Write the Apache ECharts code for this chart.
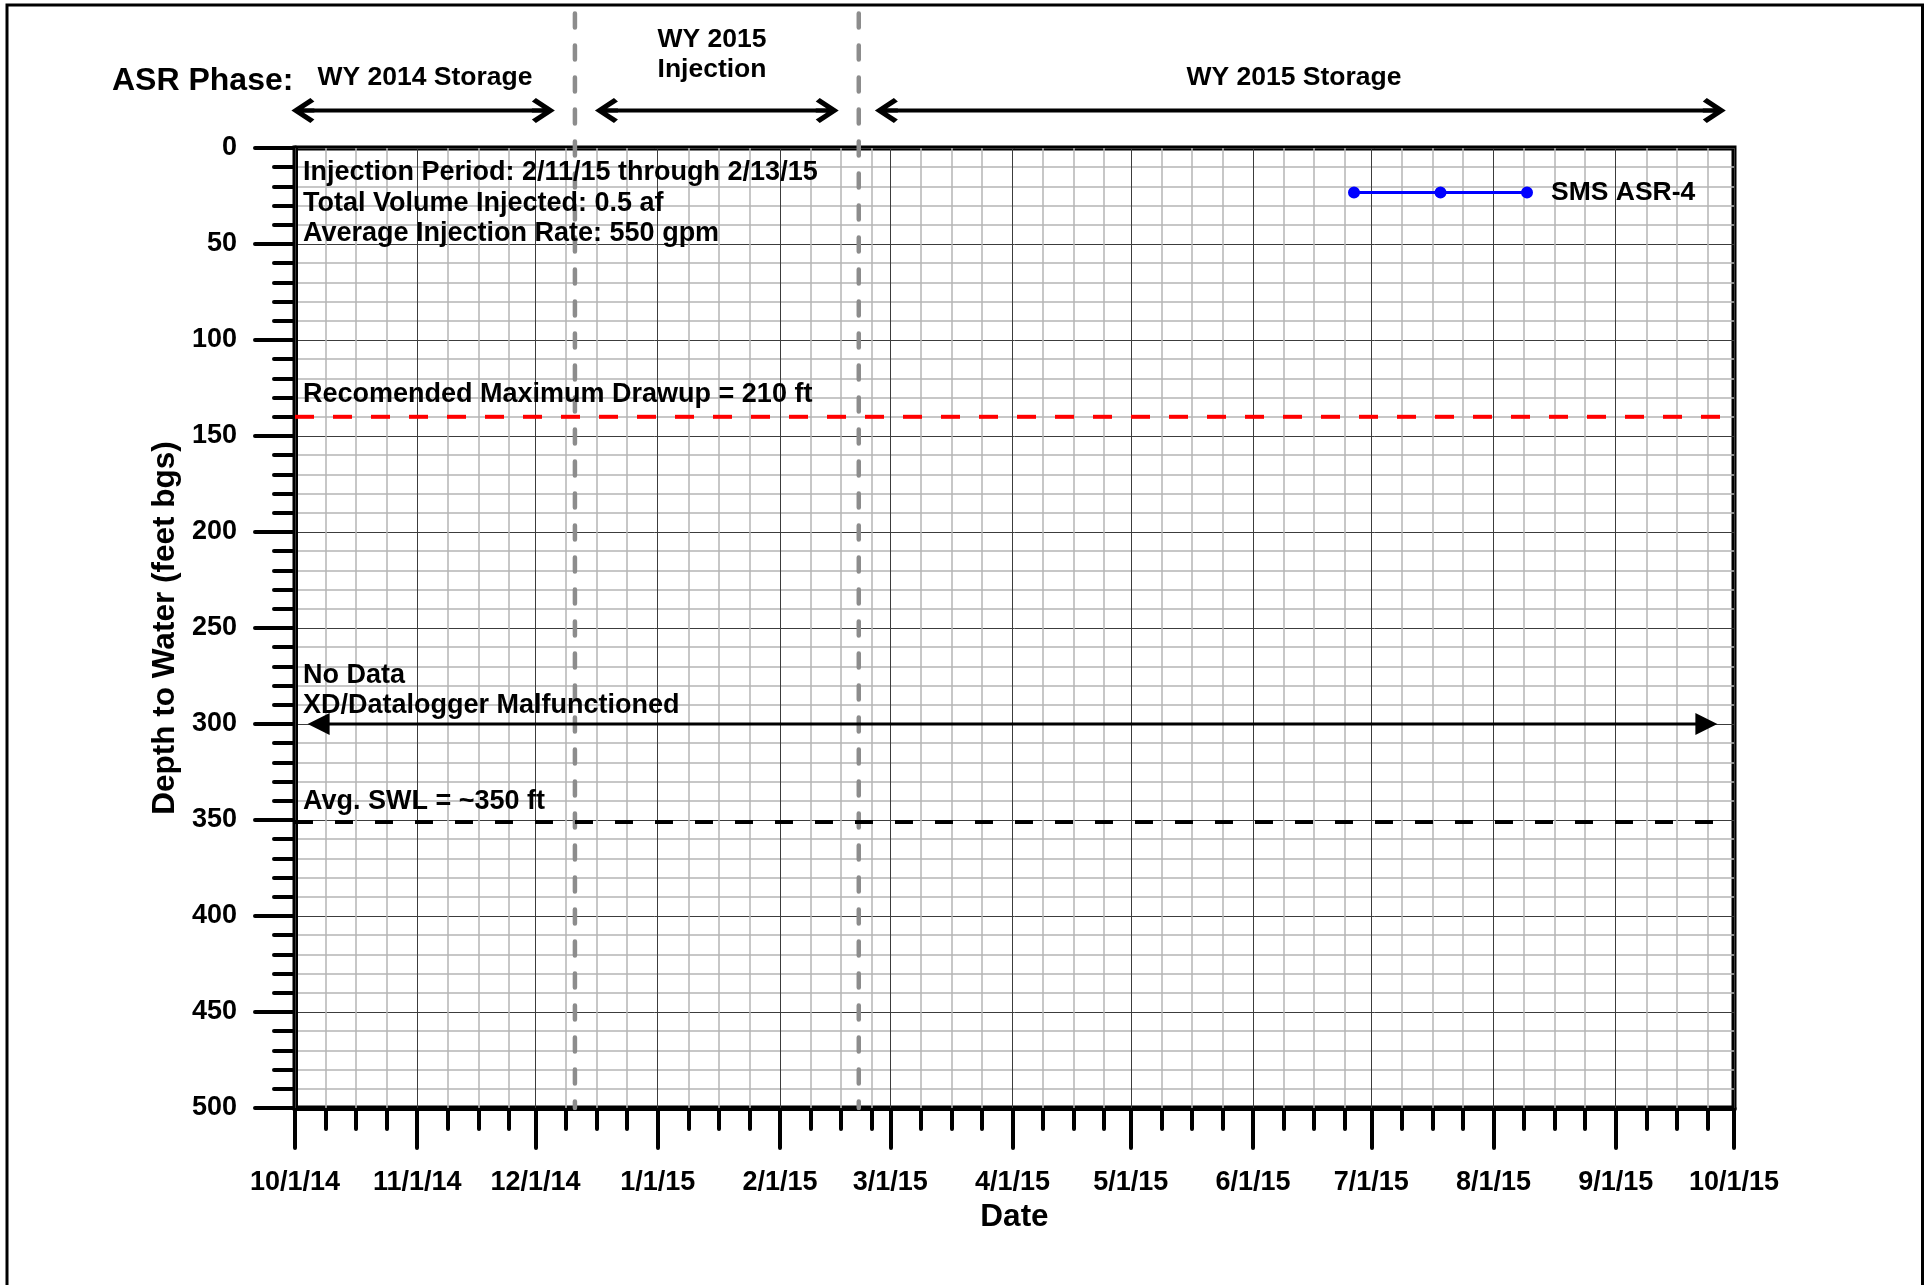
<!DOCTYPE html>
<html><head><meta charset="utf-8">
<script src="https://cdn.jsdelivr.net/npm/echarts@6/dist/echarts.min.js"></script>
<style>html,body{margin:0;padding:0;background:#fff}#chart{width:1932px;height:1285px}</style>
</head><body><div id="chart"></div>
<script>
// ---------- data ----------
const dateRange = ['2014-10-01', '2015-10-01'];
const monthTicks = ['2014-10-01','2014-11-01','2014-12-01','2015-01-01','2015-02-01','2015-03-01',
  '2015-04-01','2015-05-01','2015-06-01','2015-07-01','2015-08-01','2015-09-01','2015-10-01'];
const minorTickFractions = [0.25, 0.5, 0.75];        // of a 31-day month
const depthRange = [0, 500];
const depthTickStep = 50;
const seriesName = 'SMS ASR-4';
const asr4Dates = [];     // no data: XD/Datalogger malfunctioned
const asr4Depths = [];
const maxDrawupDepth = 140;
const avgSwlDepth = 351;
const noDataDepth = 300;
const noDataArrow = ['2014-10-07', '2015-09-24'];
const phaseBoundaryDates = ['2014-12-11', '2015-02-21'];
const phaseNames = ['WY 2014 Storage', 'WY 2015\nInjection', 'WY 2015 Storage'];
const phaseArrowStarts = ['2014-10-03', '2014-12-19', '2015-02-28'];
const phaseArrowEnds = ['2014-12-03', '2015-02-13', '2015-09-26'];
const phaseArrowDepth = -19.5;   // above the plot (overlay scale)
const phaseLineTop = -70;
const notes = ['Injection Period: 2/11/15 through 2/13/15', 'Total Volume Injected: 0.5 af', 'Average Injection Rate: 550 gpm'];

// ---------- helpers ----------
const DAY = 86400000;
const d = s => { const [y, m, dd] = s.split('-').map(Number); return Date.UTC(y, m - 1, dd); };
const FONT = "'Liberation Sans', Arial, Helvetica, sans-serif";
const fmtDate = v => { const t = new Date(v); return (t.getUTCMonth() + 1) + '/' + t.getUTCDate() + '/' + String(t.getUTCFullYear()).slice(2); };
const monthVals = monthTicks.map(d);
const minorVals = [];
monthVals.slice(0, -1).forEach(m => minorTickFractions.forEach(f => minorVals.push(m + f * 31 * DAY)));

const chevron = 'path://M12.5,0 L25,19 L21.5,23 L12.5,9 L3.5,23 L0,19 Z M10.5,6 L14.5,6 L14.5,23 L10.5,23 Z';
const legendIcon = 'path://M0,6 A6,6 0 1,1 12,6 A6,6 0 1,1 0,6 Z M86.5,6 A6,6 0 1,1 98.5,6 A6,6 0 1,1 86.5,6 Z M173,6 A6,6 0 1,1 185,6 A6,6 0 1,1 173,6 Z M6,4.5 L179,4.5 L179,7.5 L6,7.5 Z';

const tickLine = {color: '#000', width: 4, cap: 'round'};
const majorGrid = {color: '#3c3c3c', width: 1, type: 'solid'};
const minorGrid = {color: '#b4b4b4', width: 1.5, type: 'solid'};

const series = [];
phaseBoundaryDates.forEach(b => series.push({
  type: 'line', xAxisIndex: 2, yAxisIndex: 1, silent: true, symbol: 'none', z: 3,
  data: [[d(b), phaseLineTop], [d(b), depthRange[1]]],
  lineStyle: {color: '#8c8c8c', width: 4.5, type: [14, 18], cap: 'round'}
}));
series.push({
  type: 'line', name: 'Recommended Maximum Drawup', silent: true, symbol: 'none', z: 4,
  data: [[d(dateRange[0]), maxDrawupDepth], [d(dateRange[1]), maxDrawupDepth]],
  lineStyle: {color: '#ff0000', width: 4, type: [19, 19]},
  markLine: {
    silent: true, z: 1, symbol: ['none', 'none'], label: {show: false}, animation: false,
    emphasis: {disabled: true},
    data: minorVals.map(v => ({xAxis: v, lineStyle: minorGrid}))
      .concat(monthVals.map(v => ({xAxis: v, lineStyle: majorGrid})))
  }
});
series.push({
  type: 'line', name: 'Avg. SWL', silent: true, symbol: 'none', z: 4,
  data: [[d(dateRange[0]), avgSwlDepth], [d(dateRange[1]), avgSwlDepth]],
  lineStyle: {color: '#000', width: 4, type: [18, 22]}
});
series.push({
  type: 'line', name: 'No Data', silent: true, symbol: 'triangle', symbolSize: 22, z: 4,
  data: [{value: [d(noDataArrow[0]), noDataDepth], symbolRotate: 90},
         {value: [d(noDataArrow[1]), noDataDepth], symbolRotate: -90}],
  itemStyle: {color: '#000'}, lineStyle: {color: '#000', width: 3}
});
phaseArrowStarts.forEach((s, i) => series.push({
  type: 'line', xAxisIndex: 2, yAxisIndex: 1, silent: true, symbol: chevron, symbolSize: [25, 23], z: 4,
  data: [{value: [d(s), phaseArrowDepth], symbolRotate: 90},
         {value: [d(phaseArrowEnds[i]), phaseArrowDepth], symbolRotate: -90}],
  itemStyle: {color: '#000'}, lineStyle: {color: '#000', width: 4}
}));
series.push({
  type: 'line', name: seriesName, symbol: 'circle', symbolSize: 12, z: 5,
  data: asr4Dates.map((t, i) => [d(t), asr4Depths[i]]),
  itemStyle: {color: '#0000ff'}, lineStyle: {color: '#0000ff', width: 3}
});

const txt = (text, x, y, size, align, extra) => ({
  type: 'text', x: x, y: y, z: 100,
  style: Object.assign({text: text, font: 'bold ' + size + 'px ' + FONT, fill: '#000', align: align, verticalAlign: 'middle'}, extra || {})
});

const option = {
  animation: false,
  backgroundColor: '#fff',
  textStyle: {fontFamily: FONT},
  grid: [
    {show: true, left: 295, top: 148, width: 1439, height: 960, borderColor: '#000', borderWidth: 5, backgroundColor: 'transparent'},
    {show: false, left: 295, top: 4, width: 1439, height: 1104}
  ],
  legend: {
    data: [seriesName], left: 1348, top: 179, padding: 0,
    icon: legendIcon, itemWidth: 185, itemHeight: 12,
    textStyle: {fontFamily: FONT, fontSize: 26.5, fontWeight: 'bold', color: '#000', padding: [0, 0, 0, 13]}
  },
  xAxis: [
    {
      type: 'value', gridIndex: 0, position: 'bottom', min: d(dateRange[0]), max: d(dateRange[1]),
      name: 'Date', nameLocation: 'middle', nameGap: 92.5,
      nameTextStyle: {fontFamily: FONT, fontSize: 31.5, fontWeight: 'bold', color: '#000'},
      axisLine: {show: true, onZero: false, lineStyle: {color: '#000', width: 5}},
      axisTick: {show: true, inside: false, length: 40, customValues: monthVals, lineStyle: tickLine},
      axisLabel: {show: true, customValues: monthVals, margin: 61, formatter: v => fmtDate(v),
        fontFamily: FONT, fontSize: 27, fontWeight: 'bold', color: '#000'},
      splitLine: {show: false}
    },
    {
      type: 'value', gridIndex: 0, position: 'bottom', offset: 0, min: d(dateRange[0]), max: d(dateRange[1]),
      axisLine: {show: false, onZero: false},
      axisTick: {show: true, inside: false, length: 21, customValues: minorVals, lineStyle: tickLine},
      axisLabel: {show: false},
      splitLine: {show: false}
    },
    {type: 'value', gridIndex: 1, show: false, min: d(dateRange[0]), max: d(dateRange[1])}
  ],
  yAxis: [
    {
      type: 'value', gridIndex: 0, inverse: true, min: depthRange[0], max: depthRange[1], interval: depthTickStep,
      name: 'Depth to Water (feet bgs)', nameLocation: 'middle', nameGap: 113,
      nameTextStyle: {fontFamily: FONT, fontSize: 31.5, fontWeight: 'bold', color: '#000'},
      axisLine: {show: true, onZero: false, lineStyle: {color: '#000', width: 5}},
      axisTick: {show: true, inside: false, length: 40, lineStyle: tickLine},
      minorTick: {show: true, splitNumber: 5, length: 21, lineStyle: tickLine},
      axisLabel: {margin: 58, fontFamily: FONT, fontSize: 27, fontWeight: 'bold', color: '#000'},
      splitLine: {show: true, lineStyle: majorGrid},
      minorSplitLine: {show: true, lineStyle: minorGrid}
    },
    {type: 'value', gridIndex: 1, show: false, inverse: true, min: -75, max: depthRange[1]}
  ],
  graphic: [
    {type: 'rect', z: 100, shape: {x: 7, y: 5, width: 1915.5, height: 1400}, style: {fill: 'none', stroke: '#000', lineWidth: 3}},
    txt('ASR Phase:', 112, 81, 32, 'left'),
    txt(phaseNames[0], 425, 78, 26.5, 'center'),
    txt(phaseNames[1], 712, 55, 26.5, 'center', {lineHeight: 30}),
    txt(phaseNames[2], 1294, 78, 26.5, 'center'),
    txt(notes[0], 303, 173, 27, 'left'),
    txt(notes[1], 303, 204, 27, 'left'),
    txt(notes[2], 303, 234, 27, 'left'),
    txt('Recomended Maximum Drawup = 210 ft', 303, 395, 27, 'left'),
    txt('No Data', 303, 676, 27, 'left'),
    txt('XD/Datalogger Malfunctioned', 303, 706, 27, 'left'),
    txt('Avg. SWL = ~350 ft', 303, 802, 27, 'left')
  ],
  series: series
};
const chart = echarts.init(document.getElementById('chart'), null, {renderer: 'canvas'});
chart.setOption(option);
</script></body></html>
